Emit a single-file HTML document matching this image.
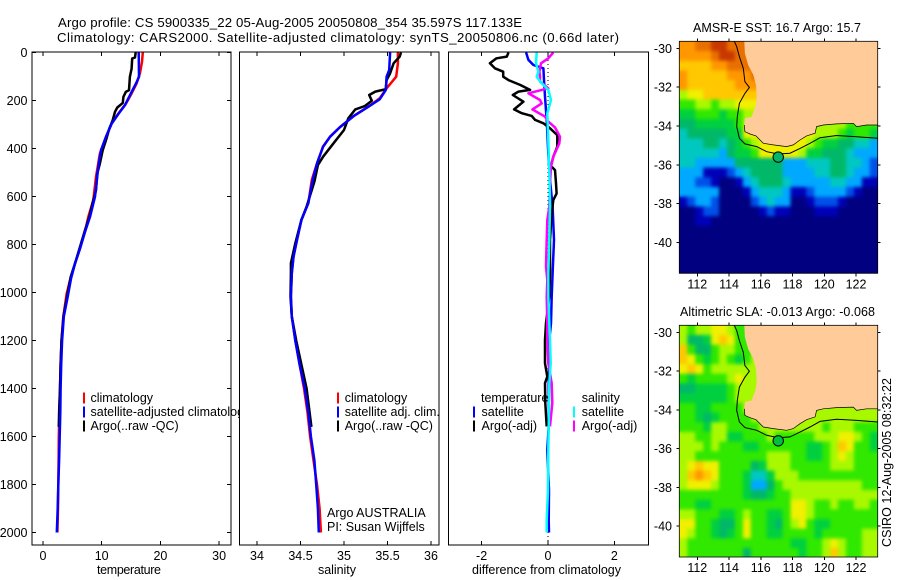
<!DOCTYPE html>
<html>
<head>
<meta charset="utf-8">
<title>Argo profile</title>
<style>
html,body{margin:0;padding:0;background:#fff;width:900px;height:580px;overflow:hidden}
svg{display:block}
text{font-family:"Liberation Sans",sans-serif;font-size:12.5px;fill:#000}
text.title{font-size:13.2px}
</style>
</head>
<body>
<svg id="fig" xmlns="http://www.w3.org/2000/svg" width="900" height="580" viewBox="0 0 900 580">
  <defs>
    <filter id="soften" filterUnits="userSpaceOnUse" x="660" y="20" width="240" height="560" color-interpolation-filters="sRGB">
      <feGaussianBlur in="SourceGraphic" stdDeviation="1.8" result="soft"/>
      <feMerge><feMergeNode in="SourceGraphic"/><feMergeNode in="soft"/></feMerge>
    </filter>
  </defs>
  <rect width="900" height="580" fill="#fff"/>
  <text class="title" x="58" y="27" textLength="464" lengthAdjust="spacing">Argo profile: CS 5900335_22 05-Aug-2005 20050808_354 35.597S 117.133E</text>
  <text class="title" x="57" y="42" textLength="562" lengthAdjust="spacing">Climatology: CARS2000. Satellite-adjusted climatology: synTS_20050806.nc (0.66d later)</text>
  <g id="p1"></g>
  <g id="p2"></g>
  <g id="p3"></g>
  <g id="m1"></g>
  <g id="m2"></g>
  <text x="97" y="574" textLength="64" lengthAdjust="spacing">temperature</text>
  <text x="318" y="574" textLength="38" lengthAdjust="spacing">salinity</text>
  <text x="472" y="574" textLength="149" lengthAdjust="spacing">difference from climatology</text>
  <text x="693" y="32" textLength="168" lengthAdjust="spacing">AMSR-E SST: 16.7  Argo: 15.7</text>
  <text x="680" y="316" textLength="195" lengthAdjust="spacing">Altimetric SLA: -0.013  Argo: -0.068</text>
  <text transform="translate(891 547) rotate(-90)" x="0" y="0" textLength="169" lengthAdjust="spacing">CSIRO 12-Aug-2005 08:32:22</text>
</svg>
<script>
const depthTicks = [0,200,400,600,800,1000,1200,1400,1600,1800,2000];
const tempTicks = [0,10,20,30];
const salTicks = [34,34.5,35,35.5,36];
const diffTicks = [-2,0,2];
const lonTicks = [112,114,116,118,120,122];
const latTicks = [-30,-32,-34,-36,-38,-40];

const tempClimDepth = [0,39,87,129,171,212,254,296,351,421,518,615,685,747,824,879,949,1004,1100,1200,1300,1400,1500,1600,1700,1800,1900,2000];
const tempClimValues = [17,16.87,16.5,15.95,15.1,14.15,12.84,11.7,10.73,9.7,9.03,8.57,7.72,7.15,6.2,5.45,4.6,4.04,3.45,3.15,3.0,2.9,2.8,2.7,2.65,2.6,2.55,2.45];
const tempSatDepth = [0,101,129,164,219,254,296,344,407,476,601,685,747,817,879,942,1018,1100,1200,1300,1400,1500,1600,1700,1800,1900,2000];
const tempSatValues = [16.3,16.35,15.84,15.1,13.97,12.9,11.7,10.85,9.88,9.42,8.86,8.0,7.15,6.3,5.45,4.77,4.2,3.55,3.25,3.1,3.0,2.95,2.85,2.75,2.6,2.5,2.35];
const tempArgoDepth = [0,21,25,67,101,157,164,185,210,229,247,282,317,365,407,462,504,574,615,685,740,810,879,935,990,1100,1200,1300,1400,1500,1560];
const tempArgoValues = [15.8,15.68,15.2,15.1,14.8,14.65,14.1,13.7,13.6,12.66,12.27,11.87,11.3,10.73,10.17,9.7,9.25,9.03,8.57,7.88,7.15,6.3,5.45,4.72,4.3,3.5,3.15,3.0,2.9,2.75,2.7];

const salClimDepth = [0,45,101,149,191,226,265,312,351,392,462,531,628,698,781,851,920,1017,1100,1200,1300,1400,1500,1600,1700,1800,1900,2000];
const salClimValues = [35.62,35.62,35.6,35.49,35.41,35.28,35.11,34.95,34.84,34.76,34.69,34.63,34.59,34.51,34.46,34.42,34.40,34.39,34.40,34.44,34.49,34.54,34.58,34.61,34.65,34.69,34.72,34.735];
const salSatDepth = [0,73,101,156,195,226,265,312,351,392,462,531,628,698,781,851,920,1017,1100,1200,1300,1400,1500,1600,1700,1800,1900,2000];
const salSatValues = [35.53,35.52,35.49,35.48,35.41,35.28,35.11,34.95,34.84,34.76,34.69,34.64,34.59,34.51,34.46,34.42,34.40,34.39,34.40,34.44,34.49,34.55,34.59,34.62,34.66,34.68,34.70,34.71];
const salArgoDepth = [0,17,45,87,115,153,163,177,201,223,237,274,323,378,434,469,538,642,698,795,878,920,1017,1100,1200,1300,1400,1500,1560];
const salArgoValues = [35.655,35.64,35.57,35.53,35.49,35.48,35.36,35.29,35.32,35.24,35.13,35.05,35.0,34.88,34.76,34.70,34.66,34.57,34.51,34.44,34.39,34.39,34.385,34.40,34.45,34.51,34.57,34.605,34.625];

const diffTempSatDepth = [0,31,52,66,115,184,281,420,531,642,781,920,1017,1128,1198,1295,1378,1461,1558,1656,1823,1950,2000];
const diffTempSatValues = [-0.66,-0.59,-0.44,-0.14,-0.12,-0.09,-0.04,0.01,0.06,0.14,0.18,0.14,0.11,0.09,0.04,0.04,0.02,0.02,0.02,-0.02,0.03,0.02,0.03];
const diffTempArgoDepth = [0,17,24,45,66,80,101,115,135,156,163,177,205,237,253,264,281,295,316,344,392,434,473,490,545,587,615,670,781,920,1017,1128,1198,1295,1350,1378,1461,1558];
const diffTempArgoValues = [-1.19,-1.24,-1.55,-1.75,-1.6,-1.35,-1.35,-1.19,-0.84,-0.54,-0.89,-1.06,-0.74,-1.02,-0.79,-0.49,-0.39,-0.14,0.06,0.28,0.28,0.16,0.09,0.21,0.24,0.26,0.16,0.11,0.06,0.06,0.04,-0.06,-0.09,-0.09,-0.02,-0.09,-0.08,-0.04];
const diffSalSatDepth = [0,45,80,101,128,156,198,253,365,503,642,781,920,1017,1128,1198,1295,1378,1461,1558,1656,1823,1950,2000];
const diffSalSatValues = [-0.34,-0.36,-0.29,-0.34,-0.19,0.01,0.09,-0.02,0.01,0.04,0.06,0.04,0.01,0.01,0.04,0.06,0.08,0.04,0.03,0.02,0.01,0,-0.04,-0.04];
const diffSalArgoDepth = [0,24,45,80,101,121,149,170,198,212,237,267,288,312,351,379,434,476,545,642,698,781,892,948,1017,1128,1198,1295,1378,1461,1558];
const diffSalArgoValues = [0.16,0.01,-0.21,-0.26,-0.24,-0.24,0.01,-0.59,-0.24,-0.19,-0.47,-0.09,0.01,0.21,0.36,0.34,0.16,0.09,0.06,0.04,-0.02,-0.04,-0.06,-0.02,-0.04,-0.02,-0.02,0.01,0.11,0.13,0.06];

const coastLon = [114.96,115.0,115.21,115.53,115.70,115.74,115.66,115.42,115.0,114.96,115.0,115.32,115.70,116.16,116.79,117.63,118.05,118.47,118.89,119.42,119.52,119.94,120.78,121.83,122.04,122.67,123.37,123.37];
const coastLat = [-29.64,-30.26,-30.86,-31.37,-31.89,-32.52,-33.0,-33.52,-33.6,-33.95,-34.29,-34.41,-34.51,-34.89,-34.97,-35.06,-34.97,-34.72,-34.51,-34.37,-34.03,-33.95,-33.89,-33.86,-34.03,-33.95,-33.95,-29.64];
const isobathLon = [114.33,114.48,114.65,114.90,115.0,115.28,115.0,114.65,114.52,114.48,114.65,115.0,115.74,116.37,117.10,117.84,118.47,119.10,119.73,120.78,122.04,123.37];
const isobathLat = [-29.64,-29.91,-30.43,-31.03,-31.72,-32.01,-32.32,-32.83,-33.52,-34.03,-34.63,-34.92,-35.06,-35.32,-35.44,-35.40,-35.15,-34.89,-34.60,-34.49,-34.55,-34.63];
const floatLon = [117.1];
const floatLat = [-35.6];

const sstRows = [
"bbccddccc................",
"bbbbcddcc................",
"aaaabbccc................",
"baaaaabbbc...............",
"baaaaaabbb...............",
"899aaaaaaa...............",
"7788788999...............",
"6677767788...............",
"5566666784.......88887777",
"4555556699a....9988876776",
"4445545678999999876655443",
"4444435667999998665554333",
"4433333555555333444554432",
"3331112345555333344554332",
"3322100134555433333443311",
"3333300013444311233332100",
"1233200002343300122210000",
"0012200000121100011100000",
"0011000000000000000000000",
"0000000000000000000000000",
"0000000000000000000000000",
"0000000000000000000000000",
"0000000000000000000000000",
"0000000000000000000000000"
];
const slaRows = [
"878899877................",
"85569a977................",
"a75578877................",
"a976787678...............",
"9a97888888...............",
"7677778988...............",
"5566667888...............",
"6666667888...............",
"7766777788.......88888888",
"77656777788....8888888888",
"7776887777888888887888777",
"8877886677787777788899876",
"88878777667777776678a9776",
"8877777777788877667898777",
"89a9977775688877777888777",
"8aba977764468887777777777",
"8999877763357888888888877",
"7777777765567788888888888",
"7766777777777799877877887",
"8877766787766799877777777",
"9977655797765789766777777",
"9877656797766777767777788",
"8777777777777766778987788",
"8777777757777776778a87788"
];

const NS = "http://www.w3.org/2000/svg";
const levelColors = {"0":"#000080","1":"#0000b8","2":"#0050e8","3":"#00a8ff","4":"#00c8c0","5":"#00b868","6":"#00d040","7":"#30e800","8":"#a8f800","9":"#f0f000","a":"#ffc800","b":"#ff9800","c":"#e87000","d":"#c83800"};

function mk(parent, tag, attrs, txt) {
  const el = document.createElementNS(NS, tag);
  for (const k in attrs) el.setAttribute(k, attrs[k]);
  if (txt !== undefined) el.textContent = txt;
  parent.appendChild(el);
  return el;
}
function depthY(d) { return 52.5 + d * 0.24; }
const P1 = {l:32, r:231, t:52, b:545};
const P2 = {l:239.5, r:439, t:52, b:545};
const P3 = {l:448.5, r:648.5, t:52, b:545};
function tempX(v) { return 43 + v * 5.87; }
function salX(v) { return 257 + (v - 34) * 87; }
function diffX(v) { return 548 + v * 33.2; }

function panel(g, box, name) {
  const bg = mk(g, 'rect', {x:box.l, y:box.t, width:box.r-box.l, height:box.b-box.t, fill:'#fff', stroke:'none'});
  
  
}
function frame(g, box, name) {
  const f = mk(g, 'rect', {x:box.l, y:box.t, width:box.r-box.l, height:box.b-box.t, fill:'none', stroke:'#000', 'stroke-width':1, 'shape-rendering':'crispEdges'});
  
  
}
function xTicks(g, box, ticks, sx, name) {
  ticks.forEach(v => {
    const x = sx(v);
    const a = mk(g, 'line', {x1:x, x2:x, y1:box.t, y2:box.t+4, stroke:'#000', 'shape-rendering':'crispEdges'});
    
    
    const b = mk(g, 'line', {x1:x, x2:x, y1:box.b, y2:box.b-4, stroke:'#000', 'shape-rendering':'crispEdges'});
    
    
    const t = mk(g, 'text', {x:x, y:560, 'text-anchor':'middle'}, String(v));
    
    
  });
}
function line(g, xs, ys, color, name) {
  const pts = xs.map((x, i) => x.toFixed(1) + ',' + ys[i].toFixed(1)).join(' ');
  const p = mk(g, 'polyline', {points:pts, fill:'none', stroke:color, 'stroke-width':2.5, 'stroke-linejoin':'round'});
  
  
}
function legendEntry(g, barX, textX, y, color, label, name) {
  if (color) {
    const b = mk(g, 'rect', {x:barX, y:y-9.5, width:2, height:11, fill:color});
    
    
  }
  const t = mk(g, 'text', {x:textX, y:y}, label);
  
  
}

/* temperature */
const p1 = document.getElementById('p1');
panel(p1, P1, 'temperature');
line(p1, tempClimValues.map(tempX), tempClimDepth.map(depthY), '#ff0000', 'temperature-climatology-line');
line(p1, tempArgoValues.map(tempX), tempArgoDepth.map(depthY), '#000000', 'temperature-argo-line');
line(p1, tempSatValues.map(tempX), tempSatDepth.map(depthY), '#0000ff', 'temperature-satellite-line');
frame(p1, P1, 'temperature');
xTicks(p1, P1, tempTicks, tempX, 'temperature');
depthTicks.forEach(d => {
  const y = depthY(d);
  const a = mk(p1, 'line', {x1:P1.l, x2:P1.l+4, y1:y, y2:y, stroke:'#000', 'shape-rendering':'crispEdges'});
  
  
  const b = mk(p1, 'line', {x1:P1.r, x2:P1.r-4, y1:y, y2:y, stroke:'#000', 'shape-rendering':'crispEdges'});
  
  
  const t = mk(p1, 'text', {x:27.5, y:y+4.5, 'text-anchor':'end'}, String(d));
  
  
});
legendEntry(p1, 83, 90.5, 402, '#ff0000', 'climatology', 'temperature-legend-climatology');
legendEntry(p1, 83, 90.5, 416, '#0000ff', 'satellite-adjusted climatology', 'temperature-legend-satellite');
legendEntry(p1, 83, 90.5, 430, '#000000', 'Argo(..raw -QC)', 'temperature-legend-argo');

/* salinity */
const p2 = document.getElementById('p2');
panel(p2, P2, 'salinity');
line(p2, salClimValues.map(salX), salClimDepth.map(depthY), '#ff0000', 'salinity-climatology-line');
line(p2, salArgoValues.map(salX), salArgoDepth.map(depthY), '#000000', 'salinity-argo-line');
line(p2, salSatValues.map(salX), salSatDepth.map(depthY), '#0000ff', 'salinity-satellite-line');
frame(p2, P2, 'salinity');
xTicks(p2, P2, salTicks, salX, 'salinity');
legendEntry(p2, 337, 344.7, 402, '#ff0000', 'climatology', 'salinity-legend-climatology');
legendEntry(p2, 337, 344.7, 416, '#0000ff', 'satellite adj. clim.', 'salinity-legend-satellite');
legendEntry(p2, 337, 344.7, 430, '#000000', 'Argo(..raw -QC)', 'salinity-legend-argo');
legendEntry(p2, 0, 327, 517, null, 'Argo AUSTRALIA', 'argo-australia-note');
legendEntry(p2, 0, 327, 531, null, 'PI: Susan Wijffels', 'principal-investigator-note');

/* difference */
const p3 = document.getElementById('p3');
panel(p3, P3, 'difference');
const zeroLine = mk(p3, 'line', {x1:diffX(0), x2:diffX(0), y1:P3.t, y2:P3.b, stroke:'#000', 'stroke-dasharray':'1 3', 'shape-rendering':'crispEdges'});


line(p3, diffTempSatValues.map(diffX), diffTempSatDepth.map(depthY), '#0000ff', 'difference-temperature-satellite-line');
line(p3, diffTempArgoValues.map(diffX), diffTempArgoDepth.map(depthY), '#000000', 'difference-temperature-argo-line');
line(p3, diffSalArgoValues.map(diffX), diffSalArgoDepth.map(depthY), '#ff00ff', 'difference-salinity-argo-line');
line(p3, diffSalSatValues.map(diffX), diffSalSatDepth.map(depthY), '#00ffff', 'difference-salinity-satellite-line');
frame(p3, P3, 'difference');
xTicks(p3, P3, diffTicks, diffX, 'difference');
legendEntry(p3, 473, 481, 402, null, 'temperature', 'difference-legend-temperature-heading');
legendEntry(p3, 473, 481.5, 416, '#0000ff', 'satellite', 'difference-legend-temperature-satellite');
legendEntry(p3, 473, 481.5, 430, '#000000', 'Argo(-adj)', 'difference-legend-temperature-argo');
legendEntry(p3, 573, 581.7, 402, null, 'salinity', 'difference-legend-salinity-heading');
legendEntry(p3, 573, 581.7, 416, '#00ffff', 'satellite', 'difference-legend-salinity-satellite');
legendEntry(p3, 573, 581.7, 430, '#ff00ff', 'Argo(-adj)', 'difference-legend-salinity-argo');

/* maps */
function lonX(lon) { return 697.3 + (lon - 112) * 15.87; }
function drawMap(id, rows, y30, yScale, top, bottom, name) {
  const g = document.getElementById(id);
  const latY = lat => y30 + (-30 - lat) * yScale;
  const L = 679.3, R = 877.7;
  const clipId = id + '-clip';
  const defs = mk(g, 'defs', {});
  const cp = mk(defs, 'clipPath', {id:clipId});
  mk(cp, 'rect', {x:L, y:top, width:R-L, height:bottom-top});
  const inner = mk(g, 'g', {'clip-path':'url(#' + clipId + ')'});
  
  
  const cells = mk(inner, 'g', {filter:'url(#soften)'});
  
  
  const lon0 = 110.87, lat0 = -29.64, step = 0.5;
  rows.forEach((row, r) => {
    row.split('').forEach((ch, c) => {
      if (ch === '.') return;
      const x0 = lonX(lon0 + c * step), x1 = lonX(lon0 + (c + 1) * step);
      const y0 = latY(lat0 - r * step), y1 = latY(lat0 - (r + 1) * step);
      const cell = mk(cells, 'rect', {x:x0.toFixed(2), y:y0.toFixed(2), width:(x1-x0+0.6).toFixed(2), height:(y1-y0+0.6).toFixed(2), fill:levelColors[ch]});
      
      
    });
  });
  const land = mk(inner, 'polygon', {points:coastLon.map((v,i)=>lonX(v).toFixed(1)+','+latY(coastLat[i]).toFixed(1)).join(' '), fill:'#ffcc99', stroke:'none'});
  
  
  const shore = mk(inner, 'polyline', {points:coastLon.slice(9, -1).map((v,i)=>lonX(v).toFixed(1)+','+latY(coastLat[i+9]).toFixed(1)).join(' '), fill:'none', stroke:'#000', 'stroke-width':0.7});
  
  
  const iso = mk(inner, 'polyline', {points:isobathLon.map((v,i)=>lonX(v).toFixed(1)+','+latY(isobathLat[i]).toFixed(1)).join(' '), fill:'none', stroke:'#000', 'stroke-width':1});
  
  
  const dot = mk(inner, 'circle', {cx:lonX(floatLon[0]), cy:latY(floatLat[0]), r:5.2, fill:id === 'm1' ? '#00b868' : '#00c040', stroke:'#000', 'stroke-width':1});
  
  
  const fr = mk(g, 'rect', {x:L, y:top, width:R-L, height:bottom-top, fill:'none', stroke:'#000', 'stroke-width':0.8});
  
  
  lonTicks.forEach(v => {
    const x = lonX(v);
    const a = mk(g, 'line', {x1:x, x2:x, y1:top-3, y2:top, stroke:'#000', 'shape-rendering':'crispEdges'});
    
    
    const b = mk(g, 'line', {x1:x, x2:x, y1:bottom, y2:bottom+3, stroke:'#000', 'shape-rendering':'crispEdges'});
    
    
    const t = mk(g, 'text', {x:x, y:bottom+15, 'text-anchor':'middle'}, String(v));
    
    
  });
  latTicks.forEach(v => {
    const y = latY(v);
    const a = mk(g, 'line', {x1:L-3, x2:L, y1:y, y2:y, stroke:'#000', 'shape-rendering':'crispEdges'});
    
    
    const b = mk(g, 'line', {x1:R, x2:R+3, y1:y, y2:y, stroke:'#000', 'shape-rendering':'crispEdges'});
    
    
    const t = mk(g, 'text', {x:672, y:y+4.5, 'text-anchor':'end'}, String(v));
    
    
  });
}
drawMap('m1', sstRows, 48.3, 19.43, 41.3, 273.3, 'sst-map');
drawMap('m2', slaRows, 332.3, 19.37, 325.3, 557, 'sla-map');
</script>
</body>
</html>
